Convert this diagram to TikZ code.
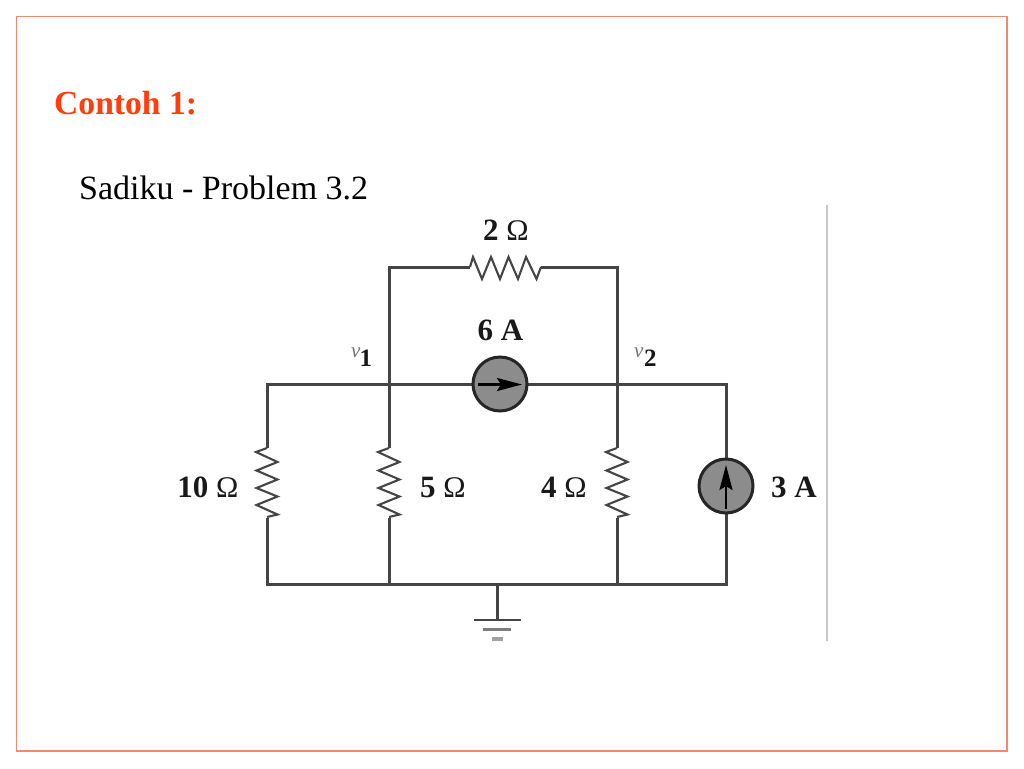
\documentclass[tikz,border=0pt]{standalone}
\usepackage{fontspec}
\setmainfont{Liberation Serif}
\usetikzlibrary{arrows.meta}
\definecolor{frameC}{HTML}{F08A6E}
\definecolor{titleC}{HTML}{FF3D0D}
\definecolor{wireC}{HTML}{454545}
\definecolor{srcC}{HTML}{8C8C8C}
\definecolor{ruleC}{HTML}{C8C8C8}
\tikzset{
  wire/.style={draw=wireC,line width=3pt,line cap=butt},
  zig/.style={draw=wireC,line width=2.1pt,line join=miter},
  source/.style={circle,draw=black!85,fill=srcC,line width=3pt,minimum size=54pt,inner sep=0pt},
  lab/.style={font=\bfseries\fontsize{31}{31}\selectfont,text=black!90,inner sep=0pt},
  arr/.style={draw=black,line width=2.4pt,-{Stealth[length=25pt,width=13pt,inset=4pt]}}
}
\newcommand{\vres}[1]{%
  \draw[zig] (#1)++(0,-35) -- ++(-11,4) -- ++(21.5,10) -- ++(-21,8.5) -- ++(21,9) -- ++(-21,8.5) -- ++(21,8.5) -- ++(-21,8.5) -- ++(21,9.5) -- ++(-10.5,2.5);}
\newcommand{\ohm}{\textmd{\fontsize{30}{30}\selectfont Ω}}
\begin{document}
\begin{tikzpicture}[x=1pt,y=-1pt]
\useasboundingbox (0,0) rectangle (1024,768);
\fill[white] (0,0) rectangle (1024,768);
\draw[frameC,line width=1.8pt] (16.5,16.5) rectangle (1007,751);
\draw[ruleC,line width=1.6pt] (827,205) -- (827,641);
\node[anchor=base west,inner sep=0pt,text=titleC,font=\bfseries\fontsize{33.6}{34}\selectfont] (title) at (54,114) {Contoh 1:};
\node[anchor=base west,inner sep=0pt,text=black,font=\fontsize{34}{34}\selectfont] (sub) at (79,199) {Sadiku - Problem 3.2};
% junctions
\coordinate (tl) at (389,267);
\coordinate (tr) at (617,267);
\coordinate (ml) at (267,384);
\coordinate (n1) at (389,384);
\coordinate (n2) at (617,384);
\coordinate (mr) at (726,384);
\coordinate (bl) at (267,584);
\coordinate (b1) at (389,584);
\coordinate (bg) at (497,584);
\coordinate (b2) at (617,584);
\coordinate (br) at (726,584);
\coordinate (g1) at (497,620);
\coordinate (r2a) at (470,267);
\coordinate (r2b) at (541,267);
\coordinate (r10) at (267,483);
\coordinate (r5) at (389,483);
\coordinate (r4) at (617,483);
\coordinate (r10a) at (267,448);
\coordinate (r10b) at (267,518);
\coordinate (r5a) at (389,448);
\coordinate (r5b) at (389,518);
\coordinate (r4a) at (617,448);
\coordinate (r4b) at (617,518);
% wires
\draw[wire] (r2a) -- (tl) -- (n1) -- (r5a);
\draw[wire] (r2b) -- (tr) -- (n2) -- (r4a);
\draw[wire] (r10a) -- (ml) -- (mr) -- (726,460);
\draw[wire] (r10b) -- (bl) -- (br) -- (726,512);
\draw[wire] (r5b) -- (b1);
\draw[wire] (r4b) -- (b2);
\draw[wire] (bg) -- (g1);
% sources
\node[source] (s6) at (500,384) {};
\node[source] (s3) at (726,486) {};
\draw[arr] (478,384.5) -- (522,384.5);
\draw[arr] (726,509) -- (726,465);
% resistors
\vres{r10}
\vres{r5}
\vres{r4}
\draw[zig] (r2a) -- (473,257) -- (482,279) -- (491,257) -- (500,279) -- (508.5,257) -- (518,279) -- (526,257) -- (536.5,279) -- (r2b);
% ground
\draw[draw=wireC,line width=2.6pt] (474,620) -- (521,620);
\draw[draw=wireC!70,line width=3pt] (483,629) -- (511,629);
\draw[draw=wireC!50,line width=4pt] (492,639) -- (503,639);
% labels
\node[lab,anchor=base] (l2) at (506,240) {2 \ohm};
\node[lab,anchor=base] (l6) at (500.5,340) {6 A};
\node[lab,anchor=base] (l10) at (208,497) {10 \ohm};
\node[lab,anchor=base] (l5) at (443,497) {5 \ohm};
\node[lab,anchor=base] (l4) at (564,497) {4 \ohm};
\node[lab,anchor=base] (l3) at (794,497) {3 A};
\node[anchor=base west,inner sep=0pt,text=black!55,font=\itshape\fontsize{21}{21}\selectfont] (v1) at (351,357) {v};
\node[anchor=base west,inner sep=0pt,text=black!90,font=\bfseries\fontsize{25}{25}\selectfont] (d1) at (359.5,366) {1};
\node[anchor=base west,inner sep=0pt,text=black!55,font=\itshape\fontsize{21}{21}\selectfont] (v2) at (634,357) {v};
\node[anchor=base west,inner sep=0pt,text=black!90,font=\bfseries\fontsize{25}{25}\selectfont] (d2) at (644,366) {2};
\end{tikzpicture}
\end{document}
